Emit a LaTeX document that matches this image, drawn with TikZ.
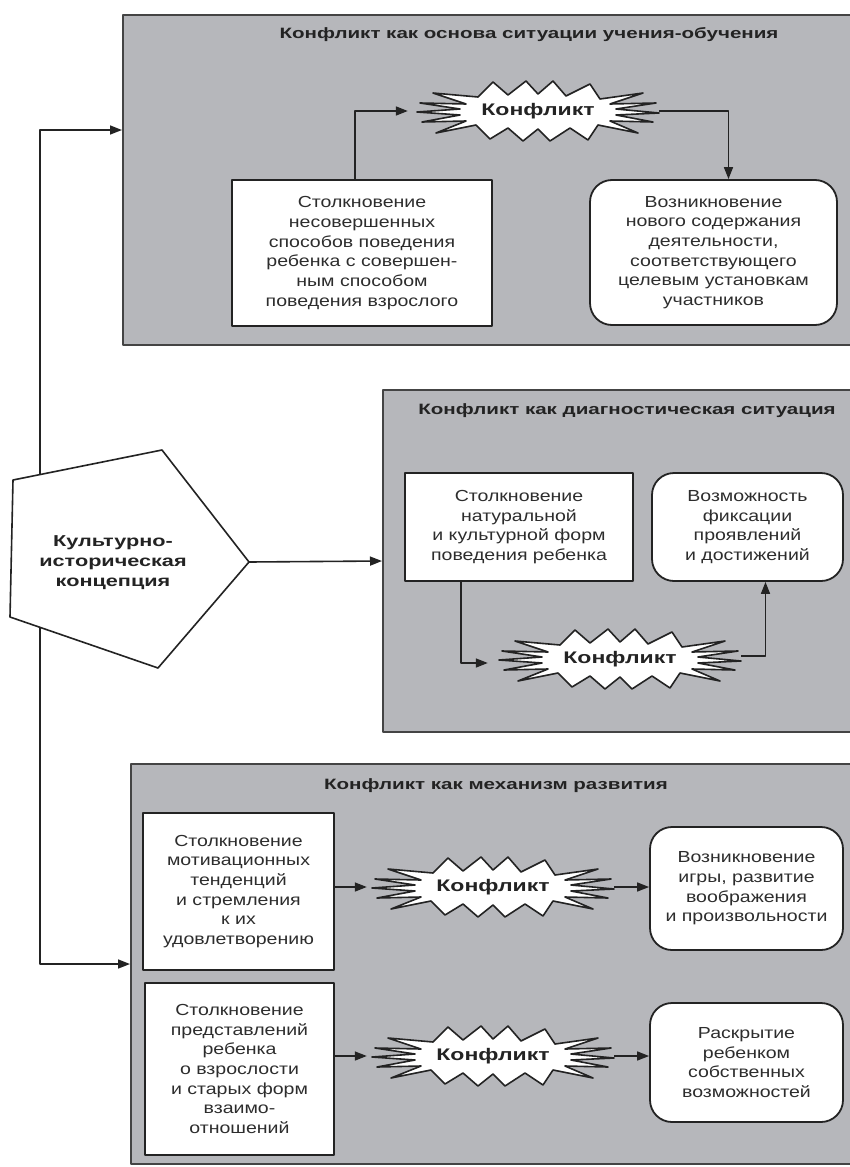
\documentclass[tikz,border=0pt]{standalone}
\usepackage{fontspec}
\setmainfont{Liberation Sans}
\newfontfamily\bodyfont{Liberation Sans}[FakeStretch=1.22]
\newfontfamily\headfont{Liberation Sans}[FakeStretch=1.37]
\usetikzlibrary{arrows.meta}
\definecolor{panelgray}{RGB}{182,183,187}
\definecolor{ink}{RGB}{35,35,35}
\definecolor{txt}{RGB}{45,45,45}
\newcommand\drawburst[1]{%
  \filldraw[burstline,shift={(#1)}]
   (-60,-14) -- (-45,-29) -- (-30,-16) -- (-12,-30) -- (0,-17) -- (15,-30) -- (28,-15)
   -- (52,-27) -- (62,-12) -- (105,-18) -- (72,-7) -- (118,-8) -- (78,-2) -- (121,2)
   -- (78,4) -- (115,11) -- (72,10) -- (100,22) -- (60,14) -- (50,29) -- (32,17)
   -- (12,30) -- (0,18) -- (-15,30) -- (-30,17) -- (-48,28) -- (-62,14) -- (-102,22)
   -- (-72,10) -- (-116,11) -- (-78,4) -- (-121,1) -- (-78,-2) -- (-118,-8) -- (-72,-7)
   -- (-105,-18) -- cycle;}
\begin{document}
\begin{tikzpicture}[x=1pt,y=-1pt,line join=round,
  panel/.style={draw=ink!85,line width=2pt,fill=panelgray,inner sep=0pt},
  box/.style={draw=ink,line width=1.8pt,fill=white,inner sep=0pt,align=center,
    text=txt,font=\bodyfont\fontsize{16}{19.7}\selectfont},
  rbox/.style={box,rounded corners=22pt},
  title/.style={inner sep=0pt,text=ink,font=\headfont\bfseries\fontsize{15}{18}\selectfont},
  burstline/.style={draw=ink,line width=1.6pt,fill=white},
  burstnode/.style={inner sep=0pt,minimum width=242pt,minimum height=60pt,text=ink,
    font=\headfont\bfseries\fontsize{16.8}{20}\selectfont},
  conn/.style={draw=ink,line width=1.6pt,-{Triangle[length=12pt,width=9pt]}},
  pentline/.style={draw=ink,line width=1.6pt,fill=white},
  penttext/.style={inner sep=0pt,align=center,text=ink,
    font=\headfont\bfseries\fontsize{15.8}{20}\selectfont}]
\useasboundingbox (0,0) rectangle (849,1167);
\fill[white] (0,0) rectangle (849,1167);
% panels
\node[panel,minimum width=728pt,minimum height=330pt] (p1) at (487,180) {};
\node[panel,minimum width=468pt,minimum height=342pt] (p2) at (617,561) {};
\node[panel,minimum width=720pt,minimum height=400pt] (p3) at (491,964) {};
\node[title] (t1) at (529,35) {Конфликт как основа ситуации учения-обучения};
\node[title] (t2) at (627,411) {Конфликт как диагностическая ситуация};
\node[title] (t3) at (496,786) {Конфликт как механизм развития};
% trunk and pentagon
\coordinate (trunk) at (40,562);
\draw[conn] (trunk) |- ([yshift=50pt]p1.west);
\draw[conn] (trunk) |- (p3.west);
\coordinate (pa) at (13,480);
\coordinate (pb) at (162,450);
\coordinate (pc) at (249,562);
\coordinate (pd) at (158,668);
\coordinate (pe) at (10,617);
\filldraw[pentline] (pa) -- (pb) -- (pc) -- (pd) -- (pe) -- cycle;
\node[penttext] (pent) at (113,563) {Культурно-\\историческая\\концепция};
\draw[conn] (pc) -- (p2.west);
% panel 1
\node[box,minimum width=260pt,minimum height=146pt] (b1) at (362,253)
  {Столкновение\\несовершенных\\способов поведения\\ребенка с совершен-\\ным способом\\поведения взрослого};
\node[rbox,minimum width=247pt,minimum height=145pt] (r1) at (713.5,252.5)
  {Возникновение\\нового содержания\\деятельности,\\соответствующего\\целевым установкам\\участников};
\coordinate (c1) at (538,111);
\drawburst{c1}
\node[burstnode] (k1) at (c1) {Конфликт};
\draw[conn] ([xshift=-7pt]b1.north) |- ([xshift=-9pt]k1.west);
\draw[conn] (k1.east) -| ([xshift=15pt]r1.north);
% panel 2
\node[box,minimum width=228pt,minimum height=108pt] (b2) at (519,527)
  {Столкновение\\натуральной\\и культурной форм\\поведения ребенка};
\node[rbox,minimum width=191pt,minimum height=108pt] (r2) at (747.5,527)
  {Возможность\\фиксации\\проявлений\\и достижений};
\coordinate (c2) at (620,659);
\drawburst{c2}
\node[burstnode] (k2) at (c2) {Конфликт};
\draw[conn] ([xshift=-58pt]b2.south) |- ([xshift=-11pt,yshift=-4pt]k2.west);
\draw[conn] ([yshift=3pt]k2.east) -| ([xshift=18pt]r2.south);
% panel 3
\node[box,minimum width=191pt,minimum height=157pt] (b3a) at (238.5,891.5)
  {Столкновение\\мотивационных\\тенденций\\и стремления\\к их\\удовлетворению};
\node[box,minimum width=189pt,minimum height=172pt] (b3b) at (239.5,1069)
  {Столкновение\\представлений\\ребенка\\о взрослости\\и старых форм\\взаимо-\\отношений};
\node[rbox,minimum width=193pt,minimum height=123pt] (r3a) at (746.5,888.5)
  {Возникновение\\игры, развитие\\воображения\\и произвольности};
\node[rbox,minimum width=193pt,minimum height=119pt] (r3b) at (746.5,1062.5)
  {Раскрытие\\ребенком\\собственных\\возможностей};
\coordinate (c3a) at (493,887);
\drawburst{c3a}
\node[burstnode] (k3a) at (c3a) {Конфликт};
\coordinate (c3b) at (493,1056);
\drawburst{c3b}
\node[burstnode] (k3b) at (c3b) {Конфликт};
\draw[conn] (b3a.east |- k3a.west) -- ([xshift=-5pt]k3a.west);
\draw[conn] (k3a.east) -- (k3a.east -| r3a.west);
\draw[conn] (b3b.east |- k3b.west) -- ([xshift=-5pt]k3b.west);
\draw[conn] (k3b.east) -- (k3b.east -| r3b.west);
\end{tikzpicture}
\end{document}
